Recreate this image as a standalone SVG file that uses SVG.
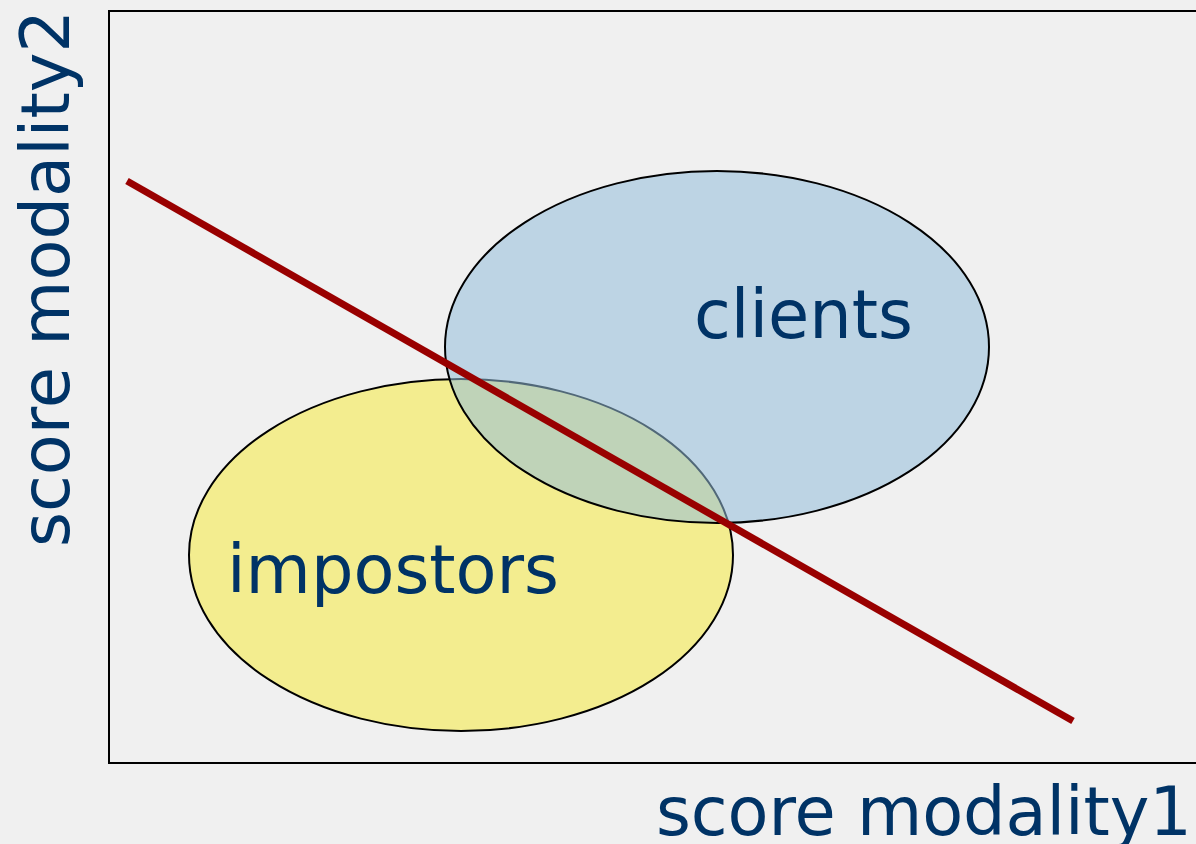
<svg xmlns="http://www.w3.org/2000/svg" width="1196" height="844" viewBox="0 0 1196 844">
  <style>
    .label { font-family: "DejaVu Sans", Verdana, sans-serif; font-size: 67px; fill: #003366; }
    .cluster { stroke: #000000; stroke-width: 2; }
  </style>
  <!-- background -->
  <rect x="0" y="0" width="1196" height="844" fill="#f0f0f0"/>
  <!-- plot frame -->
  <rect x="109" y="11" width="1100" height="752" fill="none" stroke="#000000" stroke-width="2"/>

  <!-- impostor score cluster -->
  <g id="impostors">
    <ellipse class="cluster" cx="461" cy="555" rx="272" ry="176" fill="#f3ed8f"/>
    <text class="label" x="227" y="593">impostors</text>
  </g>

  <!-- client score cluster (semi-transparent so the overlap shows through) -->
  <g id="clients">
    <ellipse cx="717" cy="347" rx="272" ry="176" fill="#93bdda" fill-opacity="0.55"/>
    <ellipse cx="717" cy="347" rx="272" ry="176" fill="none" stroke="#000000" stroke-width="2"/>
    <text class="label" x="694" y="338">clients</text>
  </g>

  <!-- decision boundary -->
  <g id="connectors">
    <line x1="127" y1="181" x2="1073" y2="721" stroke="#990000" stroke-width="7"/>
  </g>

  <!-- axis labels -->
  <g id="axis-x">
    <text class="label" x="656" y="835" textLength="536" lengthAdjust="spacing">score modality1</text>
  </g>
  <g id="axis-y">
    <text class="label" transform="translate(69 547) rotate(-90)">score modality2</text>
  </g>
</svg>
